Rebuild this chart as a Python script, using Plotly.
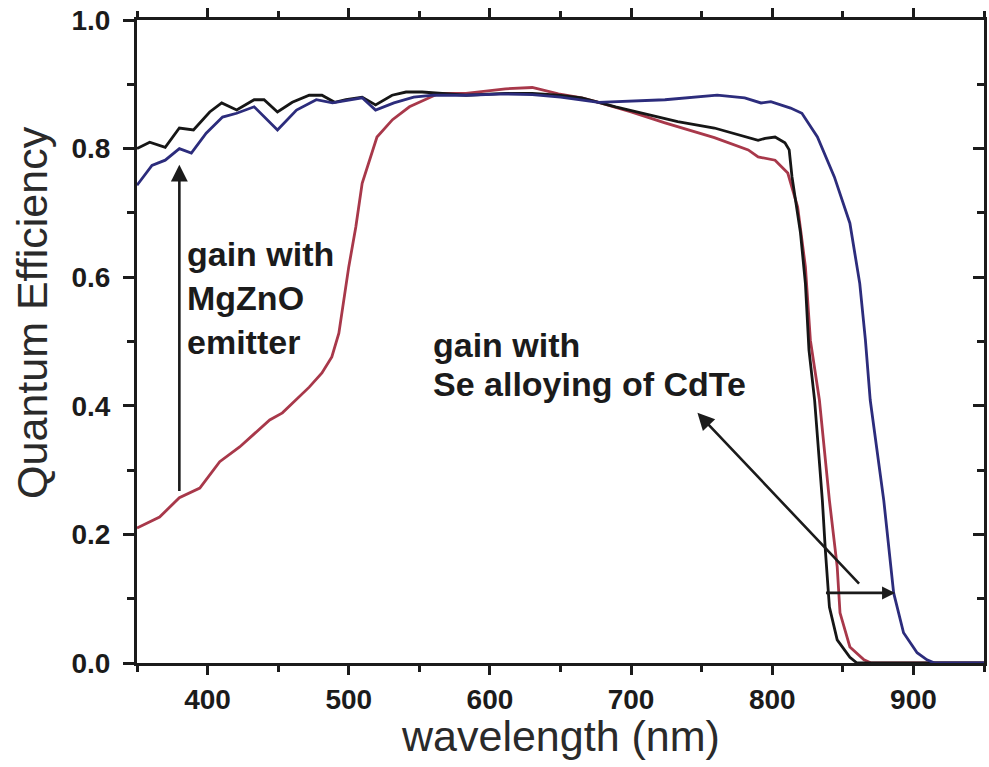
import plotly.graph_objects as go

# Wavelength grid (nm) and quantum efficiency for each device
wl_black = [350, 359, 370, 380, 390, 401.5, 410, 420.6, 433, 440, 449.5, 460, 472, 481, 490,
            498, 509.5, 519, 530.7, 540.6, 552, 564, 583, 611, 630, 648.5, 665, 689, 724,
            733, 759, 783, 790, 795, 802, 809, 812, 814, 820, 823.5, 826, 830, 835.5, 837.6,
            840.5, 846, 855, 860, 950]
qe_black = [0.800, 0.810, 0.802, 0.832, 0.829, 0.857, 0.871, 0.860, 0.876, 0.876, 0.857, 0.872,
            0.883, 0.883, 0.872, 0.876, 0.880, 0.868, 0.883, 0.888, 0.888, 0.886, 0.883, 0.886,
            0.886, 0.883, 0.879, 0.865, 0.847, 0.842, 0.832, 0.818, 0.813, 0.816, 0.818, 0.809,
            0.798, 0.756, 0.669, 0.590, 0.487, 0.409, 0.253, 0.176, 0.087, 0.036, 0.009, 0.0, 0.0]

wl_blue = [350, 360.6, 370, 380, 388.5, 399, 410.6, 420.6, 433, 449.5, 463, 477, 488.5, 509.5,
           519, 532, 546, 560, 583, 611, 630, 650, 677, 724, 761, 780.5, 792, 799, 813, 821,
           832, 844, 855, 862, 866, 869.4, 879, 886, 893, 902.6, 909.6, 915, 950]
qe_blue = [0.743, 0.774, 0.782, 0.800, 0.793, 0.824, 0.849, 0.855, 0.865, 0.829, 0.860, 0.876,
           0.871, 0.879, 0.860, 0.871, 0.880, 0.883, 0.883, 0.885, 0.884, 0.880, 0.872, 0.876,
           0.883, 0.879, 0.871, 0.873, 0.863, 0.855, 0.818, 0.756, 0.684, 0.590, 0.502, 0.409,
           0.253, 0.109, 0.047, 0.016, 0.005, 0.0, 0.0]

wl_red = [350, 366, 380, 394.5, 408.6, 422.7, 444, 453, 472, 481, 488, 493, 500, 505, 509.5,
          520, 531, 543, 564, 583, 611, 630, 648.5, 665, 677, 700, 724, 759, 783, 790, 802,
          811, 818, 823.5, 827, 833.4, 840.5, 846, 848, 855, 865, 870, 950]
qe_red = [0.210, 0.227, 0.257, 0.272, 0.313, 0.336, 0.378, 0.389, 0.429, 0.451, 0.476, 0.513,
          0.616, 0.678, 0.746, 0.818, 0.845, 0.865, 0.886, 0.886, 0.893, 0.895, 0.885, 0.879,
          0.872, 0.857, 0.840, 0.817, 0.798, 0.787, 0.782, 0.762, 0.709, 0.616, 0.502, 0.409,
          0.253, 0.150, 0.078, 0.025, 0.005, 0.0, 0.0]

x_ticks = [400, 500, 600, 700, 800, 900]
y_ticks = [0.0, 0.2, 0.4, 0.6, 0.8, 1.0]

x_title = "wavelength (nm)"
y_title = "Quantum Efficiency"
label_mgzno = ["gain with", "MgZnO", "emitter"]
label_se = ["gain with", "Se alloying of CdTe"]

INK = "#1b1b1b"

fig = go.Figure()
fig.add_trace(go.Scatter(x=wl_red, y=qe_red, mode="lines",
                         line=dict(color="#a8384a", width=2.8), name="red"))
fig.add_trace(go.Scatter(x=wl_black, y=qe_black, mode="lines",
                         line=dict(color="#161616", width=2.8), name="black"))
fig.add_trace(go.Scatter(x=wl_blue, y=qe_blue, mode="lines",
                         line=dict(color="#2c2c7c", width=2.8), name="blue"))

tick_font = dict(family="Liberation Sans", size=28, color=INK, weight="bold")
title_font = dict(family="Liberation Sans", size=43, color="#2a2a2a")
note_font = dict(family="Liberation Sans", size=34, color=INK, weight="bold")

fig.update_layout(
    width=989, height=767,
    margin=dict(l=137, r=2, t=20, b=104),
    paper_bgcolor="white", plot_bgcolor="white",
    showlegend=False,
    xaxis=dict(
        range=[350, 950], tickvals=x_ticks, ticks="outside", ticklen=9, tickwidth=3,
        tickcolor=INK, showline=True, linewidth=3, linecolor=INK, mirror="ticks",
        showgrid=False, zeroline=False, tickfont=tick_font,
        minor=dict(dtick=50, tick0=350, ticks="outside", ticklen=6, tickwidth=3, tickcolor=INK),
    ),
    yaxis=dict(
        range=[0, 1.0], tickvals=y_ticks, tickformat=".1f", ticks="outside", ticklen=11,
        tickwidth=3, tickcolor=INK, showline=True, linewidth=3, linecolor=INK, mirror=True,
        showgrid=False, zeroline=False, tickfont=tick_font, ticklabelstandoff=7,
        minor=dict(dtick=0.1, tick0=0, ticks="outside", ticklen=7, tickwidth=3, tickcolor=INK),
    ),
    yaxis2=dict(
        range=[0, 1.0], overlaying="y", side="right", tickvals=y_ticks, ticks="inside",
        ticklen=11, tickwidth=3, tickcolor=INK, showticklabels=False, showgrid=False,
        zeroline=False, showline=False,
        minor=dict(dtick=0.1, tick0=0, ticks="inside", ticklen=7, tickwidth=3, tickcolor=INK),
    ),
)
# empty trace so the right-hand tick axis is rendered
fig.add_trace(go.Scatter(x=[], y=[], yaxis="y2", showlegend=False))

# Axis titles
fig.add_annotation(x=0.5, y=-0.114, xref="paper", yref="paper", text=x_title,
                   showarrow=False, xanchor="center", yanchor="middle", font=title_font)
fig.add_annotation(x=-0.124, y=0.546, xref="paper", yref="paper", text=y_title,
                   showarrow=False, textangle=-90, xanchor="center", yanchor="middle",
                   font=title_font)

# Arrows
fig.add_annotation(x=380, y=0.775, ax=380, ay=0.265, xref="x", yref="y", axref="x", ayref="y",
                   showarrow=True, arrowhead=2, arrowsize=1.3, arrowwidth=2.6, arrowcolor=INK,
                   text="")
fig.add_annotation(x=747, y=0.389, ax=862.5, ay=0.121, xref="x", yref="y", axref="x", ayref="y",
                   showarrow=True, arrowhead=2, arrowsize=1.3, arrowwidth=2.6, arrowcolor=INK,
                   text="")
fig.add_annotation(x=887, y=0.109, ax=837, ay=0.109, xref="x", yref="y", axref="x", ayref="y",
                   showarrow=True, arrowhead=2, arrowsize=1.0, arrowwidth=2.6, arrowcolor=INK,
                   text="")

# Labels
for line, yv in zip(label_mgzno, [0.636, 0.568, 0.499]):
    fig.add_annotation(x=384, y=yv, xref="x", yref="y", text=line, showarrow=False,
                       xanchor="left", yanchor="middle", font=note_font)
for line, yv in zip(label_se, [0.495, 0.434]):
    fig.add_annotation(x=558, y=yv, xref="x", yref="y", text=line, showarrow=False,
                       xanchor="left", yanchor="middle", font=note_font)

fig.write_html("out.html")
